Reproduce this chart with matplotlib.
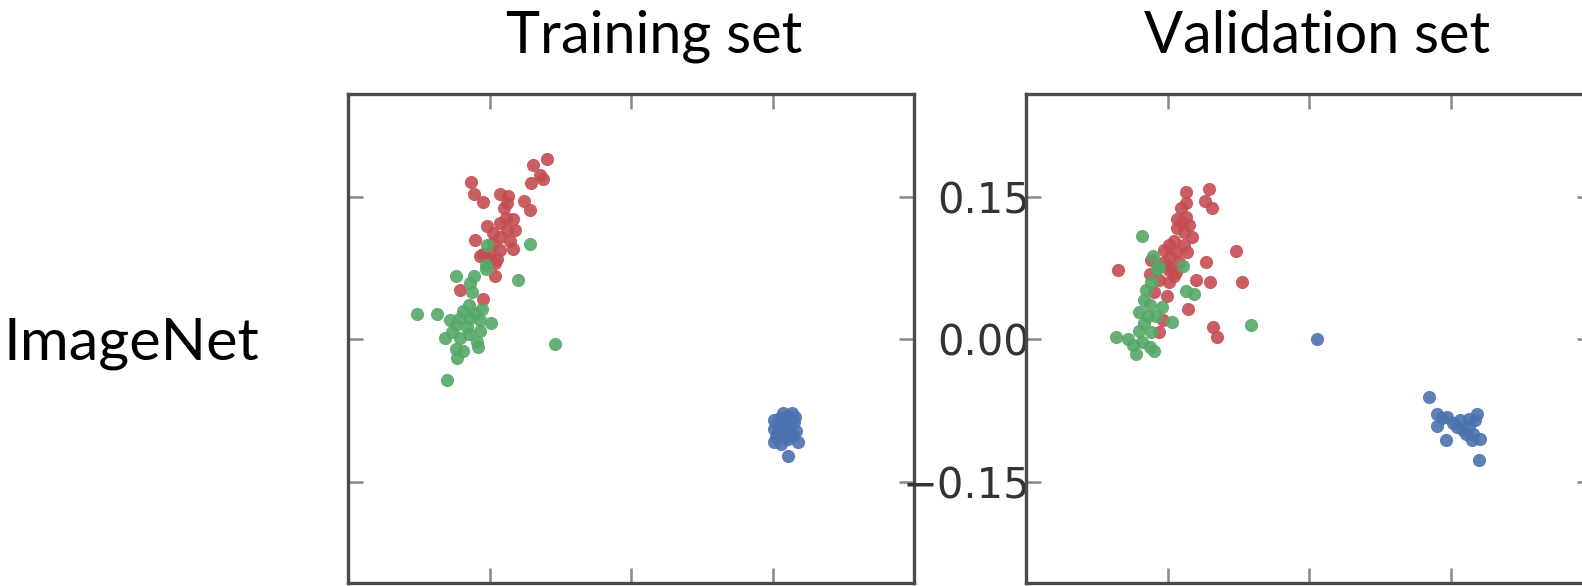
import matplotlib.pyplot as plt

# training set points (x, y)
train_red_x = [-0.089, -0.104, -0.097, -0.106, -0.093, -0.170, -0.167, -0.157, -0.139, -0.130,
               -0.132, -0.114, -0.107, -0.135, -0.125, -0.153, -0.139, -0.132, -0.123, -0.139,
               -0.128, -0.165, -0.146, -0.157, -0.149, -0.139, -0.125, -0.142, -0.149, -0.160,
               -0.144, -0.144, -0.181, -0.157, -0.133, -0.146]
train_red_y = [0.190, 0.183, 0.173, 0.164, 0.169, 0.165, 0.153, 0.145, 0.153, 0.151,
               0.143, 0.146, 0.136, 0.138, 0.127, 0.119, 0.122, 0.115, 0.115, 0.108,
               0.104, 0.105, 0.101, 0.090, 0.092, 0.094, 0.095, 0.085, 0.083, 0.088,
               0.080, 0.067, 0.052, 0.043, 0.128, 0.112]

train_green_x = [-0.153, -0.107, -0.154, -0.154, -0.186, -0.167, -0.120, -0.171, -0.169, -0.172,
                 -0.158, -0.227, -0.206, -0.192, -0.181, -0.171, -0.186, -0.174, -0.160, -0.148,
                 -0.160, -0.197, -0.181, -0.172, -0.163, -0.186, -0.178, -0.162, -0.185, -0.081,
                 -0.195, -0.190, -0.178, -0.165]
train_green_y = [0.099, 0.100, 0.078, 0.074, 0.067, 0.067, 0.062, 0.059, 0.050, 0.036,
                 0.032, 0.027, 0.027, 0.020, 0.023, 0.023, 0.015, 0.013, 0.020, 0.017,
                 0.009, 0.002, 0.002, 0.006, -0.003, -0.010, -0.012, -0.008, -0.019, -0.005,
                 -0.043, 0.008, 0.030, 0.028]

train_blue_x = [0.152, 0.166, 0.173, 0.159, 0.175, 0.154, 0.166, 0.177, 0.159, 0.152,
                0.166, 0.163, 0.170, 0.151, 0.161, 0.171, 0.156, 0.158, 0.168, 0.162,
                0.174, 0.155, 0.164, 0.172]
train_blue_y = [-0.085, -0.080, -0.087, -0.094, -0.096, -0.103, -0.105, -0.108, -0.110, -0.108,
                -0.122, -0.087, -0.099, -0.094, -0.077, -0.077, -0.098, -0.083, -0.091, -0.103,
                -0.081, -0.089, -0.095, -0.102]

# validation set points (x, y)
val_red_x = [-0.130, -0.106, -0.110, -0.103, -0.131, -0.136, -0.140, -0.131, -0.127, -0.140,
             -0.133, -0.124, -0.143, -0.148, -0.133, -0.154, -0.141, -0.129, -0.147, -0.168,
             -0.078, -0.109, -0.203, -0.169, -0.148, -0.141, -0.143, -0.159, -0.148, -0.120,
             -0.105, -0.071, -0.164, -0.151, -0.128, -0.155, -0.159, -0.102, -0.098, -0.154,
             -0.138, -0.135, -0.150]
val_red_y = [0.155, 0.158, 0.146, 0.138, 0.143, 0.138, 0.127, 0.129, 0.120, 0.117,
             0.113, 0.108, 0.104, 0.099, 0.099, 0.094, 0.092, 0.092, 0.087, 0.083,
             0.093, 0.081, 0.073, 0.069, 0.073, 0.071, 0.067, 0.062, 0.060, 0.062,
             0.060, 0.060, 0.050, 0.046, 0.032, 0.020, 0.008, 0.013, 0.003, 0.081,
             0.081, 0.123, 0.077]

val_green_x = [-0.177, -0.166, -0.159, -0.134, -0.161, -0.173, -0.168, -0.131, -0.122, -0.156,
               -0.180, -0.171, -0.162, -0.175, -0.145, -0.180, -0.168, -0.205, -0.192, -0.187,
               -0.177, -0.169, -0.164, -0.183, -0.062, -0.175, -0.169]
val_green_y = [0.109, 0.088, 0.076, 0.077, 0.074, 0.052, 0.060, 0.051, 0.048, 0.034,
               0.029, 0.025, 0.025, 0.017, 0.018, 0.009, 0.008, 0.003, 0.000, -0.006,
               -0.003, -0.008, -0.012, -0.015, 0.015, 0.041, 0.036]

val_blue_x = [0.008, 0.127, 0.136, 0.146, 0.136, 0.178, 0.160, 0.157, 0.169, 0.174,
              0.166, 0.181, 0.173, 0.145, 0.180, 0.141, 0.152, 0.176, 0.163, 0.170]
val_blue_y = [0.000, -0.061, -0.078, -0.082, -0.091, -0.078, -0.085, -0.092, -0.091, -0.099,
              -0.099, -0.105, -0.106, -0.106, -0.127, -0.083, -0.088, -0.085, -0.095, -0.084]

yticks = [-0.15, 0.0, 0.15]
ytick_labels = ["\u22120.15", "0.00", "0.15"]
xticks = [-0.15, 0.0, 0.15]

red = "#C44E52"
green = "#55A868"
blue = "#4C72B0"

fig = plt.figure(figsize=(15.82, 5.86), dpi=100)
ax1 = fig.add_axes([0.2200, 0.0051, 0.3578, 0.8345])
ax2 = fig.add_axes([0.6486, 0.0051, 0.3578, 0.8345])

panels = [
    (ax1, train_red_x, train_red_y, train_green_x, train_green_y, train_blue_x, train_blue_y),
    (ax2, val_red_x, val_red_y, val_green_x, val_green_y, val_blue_x, val_blue_y),
]

for ax, rx, ry, gx, gy, bx, by in panels:
    ax.scatter(rx, ry, s=90, color=red, alpha=0.9, linewidths=0)
    ax.scatter(gx, gy, s=90, color=green, alpha=0.9, linewidths=0)
    ax.scatter(bx, by, s=90, color=blue, alpha=0.9, linewidths=0)
    ax.set_xlim(-0.3, 0.3)
    ax.set_ylim(-0.256, 0.258)
    ax.set_xticks(xticks)
    ax.set_yticks(yticks)
    ax.set_xticklabels([])
    ax.tick_params(axis="both", direction="in", length=11, width=1.8, color="#888888",
                   top=True, right=True, labelsize=30, labelcolor="#333333", pad=-3)
    for sp in ax.spines.values():
        sp.set_color("#4a4a4a")
        sp.set_linewidth(2.4)

ax1.set_yticklabels([])
ax2.set_yticklabels(ytick_labels)

fig.text(0.4134, 0.910, "Training set", fontsize=41.5, family="Lato", ha="center", va="baseline")
fig.text(0.8325, 0.910, "Validation set", fontsize=41.5, family="Lato", ha="center", va="baseline")
fig.text(0.0828, 0.386, "ImageNet", fontsize=42.8, family="Lato", ha="center", va="baseline")

fig.savefig("out.png", dpi=100)
